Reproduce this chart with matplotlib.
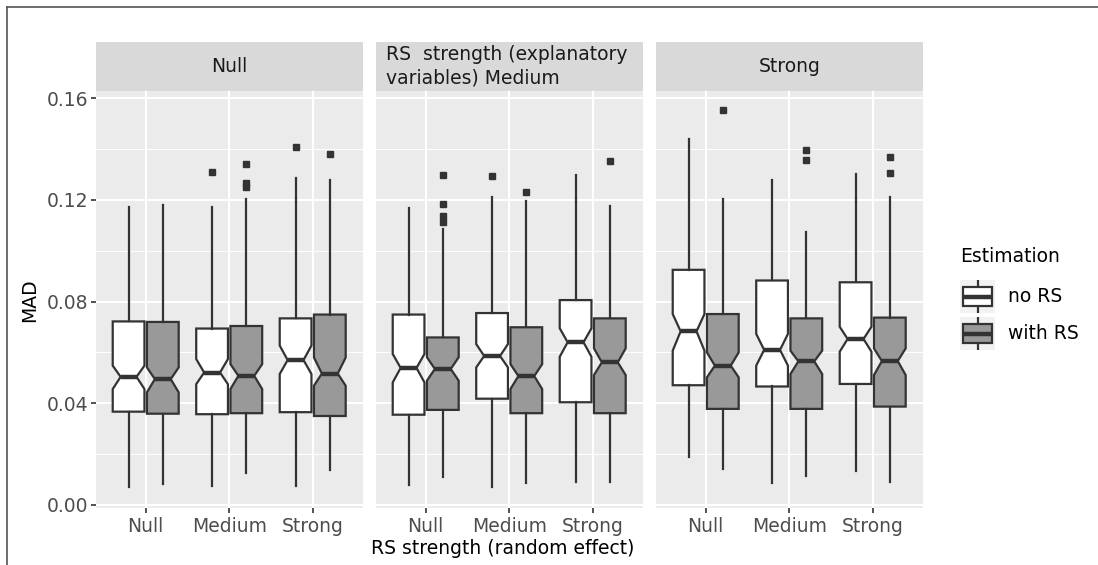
import matplotlib
matplotlib.use("Agg")
import matplotlib.pyplot as plt
from matplotlib.patches import Rectangle
from matplotlib.lines import Line2D

plt.rcParams['font.family'] = ['DejaVu Sans']

# ---------------- data ----------------
facets = ["Null", "RS  strength (explanatory\nvariables) Medium", "Strong"]
groups = ["Null", "Medium", "Strong"]
estimation = ["no RS", "with RS"]
yticks = [0.00, 0.04, 0.08, 0.12, 0.16]
ytick_labels = ["0.00", "0.04", "0.08", "0.12", "0.16"]

# indexed [facet][group][estimation]
whislo = [
    [[0.0072, 0.0084], [0.0076, 0.0126], [0.0075, 0.0138]],
    [[0.0079, 0.0110], [0.0070, 0.0085], [0.0090, 0.0089]],
    [[0.0190, 0.0140], [0.0085, 0.0115], [0.0134, 0.0090]],
]
q1 = [
    [[0.0367, 0.0359], [0.0357, 0.0361], [0.0365, 0.0350]],
    [[0.0355, 0.0374], [0.0418, 0.0361], [0.0404, 0.0361]],
    [[0.0471, 0.0378], [0.0466, 0.0378], [0.0476, 0.0387]],
]
median = [
    [[0.0504, 0.0495], [0.0521, 0.0508], [0.0570, 0.0517]],
    [[0.0539, 0.0535], [0.0586, 0.0507], [0.0640, 0.0561]],
    [[0.0683, 0.0548], [0.0610, 0.0565], [0.0653, 0.0566]],
]
q3 = [
    [[0.0722, 0.0720], [0.0694, 0.0704], [0.0734, 0.0749]],
    [[0.0749, 0.0659], [0.0755, 0.0699], [0.0806, 0.0734]],
    [[0.0925, 0.0751], [0.0883, 0.0734], [0.0876, 0.0737]],
]
whishi = [
    [[0.1172, 0.1180], [0.1172, 0.1205], [0.1287, 0.1277]],
    [[0.1168, 0.1086], [0.1211, 0.1195], [0.1298, 0.1178]],
    [[0.1441, 0.1205], [0.1280, 0.1073], [0.1301, 0.1210]],
]
notch_lo = [
    [[0.0456, 0.0443], [0.0475, 0.0456], [0.0515, 0.0469]],
    [[0.0482, 0.0489], [0.0541, 0.0456], [0.0583, 0.0511]],
    [[0.0607, 0.0502], [0.0548, 0.0515], [0.0603, 0.0511]],
]
notch_hi = [
    [[0.0548, 0.0541], [0.0574, 0.0554], [0.0627, 0.0580]],
    [[0.0594, 0.0581], [0.0633, 0.0554], [0.0695, 0.0616]],
    [[0.0751, 0.0600], [0.0673, 0.0607], [0.0701, 0.0616]],
]
outliers = [
    [[[], []], [[0.1310], [0.1342, 0.1265, 0.1252]], [[0.1408], [0.1382]]],
    [[[], [0.1299, 0.1183, 0.1138, 0.1115]], [[0.1293], [0.1232]], [[], [0.1353]]],
    [[[], [0.1553]], [[], [0.1398, 0.1356]], [[], [0.1368, 0.1305]]],
]

# ---------------- style ----------------
fills = ["#FFFFFF", "#999999"]
edge = "#333333"
panel_bg = "#EBEBEB"
strip_bg = "#D9D9D9"
W, H = 1098, 565
FS = 13.5

fig = plt.figure(figsize=(W / 100, H / 100), dpi=100)

def fx(px):
    return px / W

def fy(py):
    return 1 - py / H

panel_left = [95.6, 375.6, 655.6]
panel_w = 267.2
panel_top, panel_bot = 90.6, 507.5
strip_top = 42.0

offsets = [-0.205, 0.205]
box_w = 0.38

for i, facet in enumerate(facets):
    ax = fig.add_axes([fx(panel_left[i]), fy(panel_bot), fx(panel_w),
                       (panel_bot - panel_top) / H])
    ax.set_facecolor(panel_bg)
    ax.set_xlim(0.4, 3.6)
    ax.set_ylim(-0.001, 0.163)
    for s in ax.spines.values():
        s.set_visible(False)
    # grid
    for v in [0.02, 0.06, 0.10, 0.14]:
        ax.axhline(v, color="white", lw=0.75, zorder=0.5)
    for v in yticks:
        ax.axhline(v, color="white", lw=1.5, zorder=0.6)
    for g in range(len(groups)):
        ax.axvline(g + 1, color="white", lw=1.5, zorder=0.6)

    for g in range(len(groups)):
        for e in range(len(estimation)):
            st = dict(med=median[i][g][e], q1=q1[i][g][e], q3=q3[i][g][e],
                      whislo=whislo[i][g][e], whishi=whishi[i][g][e],
                      cilo=notch_lo[i][g][e], cihi=notch_hi[i][g][e],
                      fliers=outliers[i][g][e])
            ax.bxp([st], positions=[g + 1 + offsets[e]], widths=[box_w],
                   patch_artist=True, shownotches=True, showcaps=False,
                   manage_ticks=False,
                   boxprops=dict(facecolor=fills[e], edgecolor=edge, linewidth=1.6),
                   medianprops=dict(color=edge, linewidth=3.2, solid_capstyle="butt"),
                   whiskerprops=dict(color=edge, linewidth=1.6),
                   flierprops=dict(marker="s", markerfacecolor=edge,
                                   markeredgecolor=edge, markersize=4.6))

    ax.set_xticks([1, 2, 3])
    ax.set_xticklabels(groups)
    ax.tick_params(axis="x", length=3.5, width=1.2, color=edge,
                   labelsize=FS, labelcolor="#4D4D4D", pad=3)
    if i == 0:
        ax.set_yticks(yticks)
        ax.set_yticklabels(ytick_labels)
        ax.tick_params(axis="y", length=3.5, width=1.2, color=edge,
                       labelsize=FS, labelcolor="#4D4D4D", pad=2)
    else:
        ax.set_yticks([])

    # strip
    sax = fig.add_axes([fx(panel_left[i]), fy(panel_top), fx(panel_w),
                        (panel_top - strip_top) / H])
    sax.set_facecolor(strip_bg)
    sax.set_xticks([])
    sax.set_yticks([])
    for s in sax.spines.values():
        s.set_visible(False)
    if "\n" in facet:
        sax.text(0.04, 0.5, facet, ha="left", va="center", fontsize=FS,
                 color="#1A1A1A", linespacing=1.25, transform=sax.transAxes)
    else:
        sax.text(0.5, 0.5, facet, ha="center", va="center", fontsize=FS,
                 color="#1A1A1A", transform=sax.transAxes)

# axis titles
fig.text(fx(503), fy(549), "RS strength (random effect)", ha="center",
         va="center", fontsize=FS, color="black")
fig.text(fx(30), fy(300), "MAD", ha="center", va="center", rotation=90,
         fontsize=FS, color="black")

# legend
fig.text(fx(960), fy(257), "Estimation", ha="left", va="center",
         fontsize=FS, color="black")
key_tops = [280, 317]
key_h = 33
key_x, key_w = 960, 35
for e, lab in enumerate(estimation):
    kax = fig.add_axes([fx(key_x), fy(key_tops[e] + key_h), fx(key_w), key_h / H])
    kax.set_xlim(0, 1)
    kax.set_ylim(0, 1)
    kax.set_facecolor("#F2F2F2")
    kax.set_xticks([])
    kax.set_yticks([])
    for s in kax.spines.values():
        s.set_visible(False)
    kax.plot([0.5, 0.5], [0.0, 0.2], color=edge, lw=1.6, solid_capstyle="butt")
    kax.plot([0.5, 0.5], [0.8, 1.0], color=edge, lw=1.6, solid_capstyle="butt")
    kax.add_patch(Rectangle((0.08, 0.2), 0.84, 0.6, facecolor=fills[e],
                            edgecolor=edge, lw=1.6))
    kax.plot([0.08, 0.92], [0.5, 0.5], color=edge, lw=3.2, solid_capstyle="butt")
    fig.text(fx(1008), fy(key_tops[e] + key_h / 2), lab, ha="left",
             va="center", fontsize=FS, color="black")

# partial outer frame (top and left)
fig.add_artist(Line2D([fx(7), 1], [fy(7), fy(7)], color="#555555", lw=1.2))
fig.add_artist(Line2D([fx(7), fx(7)], [0, fy(7)], color="#555555", lw=1.2))

fig.savefig("out.png", dpi=100)
